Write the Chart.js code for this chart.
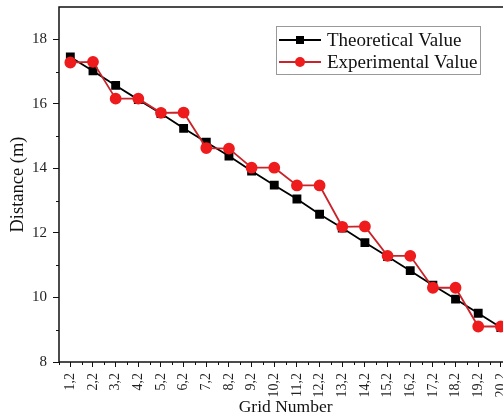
<!DOCTYPE html>
<html>
<head>
<meta charset="utf-8">
<script src="https://cdn.jsdelivr.net/npm/chart.js@4"></script>
<style>
  html, body { margin: 0; padding: 0; background: #fff; overflow: hidden; }
  #wrap { width: 519px; height: 419px; }
</style>
</head>
<body>
<div id="wrap"><canvas id="chart"></canvas></div>
<script>
// grid labels along the x axis
const gridLabels = ['1,2', '2,2', '3,2', '4,2', '5,2', '6,2', '7,2', '8,2', '9,2', '10,2',
    '11,2', '12,2', '13,2', '14,2', '15,2', '16,2', '17,2', '18,2', '19,2', '20,2'];

// distance values (m)
const theoretical = [17.45, 17.02, 16.57, 16.13, 15.70, 15.24, 14.81, 14.38, 13.92, 13.48,
    13.05, 12.58, 12.15, 11.70, 11.27, 10.83, 10.38, 9.95, 9.51, 9.07];
const experimental = [17.28, 17.30, 16.16, 16.16, 15.72, 15.73, 14.63, 14.61, 14.02, 14.02,
    13.47, 13.47, 12.19, 12.20, 11.29, 11.29, 10.30, 10.30, 9.10, 9.10];

const yMin = 8, yMax = 19;
const serif = '"Liberation Serif", "Times New Roman", serif';

// frame + minor ticks (Origin style)
const framePlugin = {
    id: 'frame',
    afterDraw(chart) {
        const { ctx, chartArea: a, scales } = chart;
        ctx.save();
        ctx.strokeStyle = '#111';
        ctx.lineWidth = 1.5;
        ctx.strokeRect(a.left, a.top, a.right - a.left, a.bottom - a.top);

        ctx.lineWidth = 1;
        ctx.beginPath();
        // y minor ticks at odd values
        for (let v = yMin + 1; v < yMax; v += 2) {
            const y = Math.round(scales.y.getPixelForValue(v)) + 0.5;
            ctx.moveTo(a.left - 3, y);
            ctx.lineTo(a.left, y);
        }
        // x minor ticks between categories
        const x = scales.x;
        for (let i = -1; i < gridLabels.length; i++) {
            const px = Math.round((x.getPixelForValue(i) + x.getPixelForValue(i + 1)) / 2) + 0.5;
            ctx.moveTo(px, a.bottom);
            ctx.lineTo(px, a.bottom + 3);
        }
        ctx.stroke();
        ctx.restore();
    }
};

// legend with line + marker samples
const legendPlugin = {
    id: 'lineLegend',
    afterDraw(chart) {
        const { ctx } = chart;
        const box = { x: 276, y: 26, w: 204, h: 48 };
        ctx.save();
        ctx.fillStyle = '#fff';
        ctx.fillRect(box.x, box.y, box.w, box.h);
        ctx.strokeStyle = '#999';
        ctx.lineWidth = 1;
        ctx.strokeRect(box.x + 0.5, box.y + 0.5, box.w, box.h);

        chart.data.datasets.forEach((ds, i) => {
            const cy = box.y + 14 + i * 22;
            ctx.strokeStyle = ds.borderColor;
            ctx.lineWidth = 2;
            ctx.beginPath();
            ctx.moveTo(box.x + 3, cy);
            ctx.lineTo(box.x + 45, cy);
            ctx.stroke();
            ctx.fillStyle = ds.pointBackgroundColor;
            if (ds.pointStyle === 'rect') {
                ctx.fillRect(box.x + 20, cy - 4, 8, 8);
            } else {
                ctx.beginPath();
                ctx.arc(box.x + 24, cy, 5, 0, Math.PI * 2);
                ctx.fill();
            }
            ctx.fillStyle = '#111';
            ctx.font = '19px ' + serif;
            ctx.textBaseline = 'middle';
            ctx.fillText(ds.label, box.x + 51, cy + 1);
        });
        ctx.restore();
    }
};

new Chart(document.getElementById('chart'), {
    type: 'line',
    data: {
        labels: gridLabels,
        datasets: [
            {
                label: 'Theoretical Value',
                data: theoretical,
                borderColor: '#000',
                backgroundColor: '#000',
                pointBackgroundColor: '#000',
                pointBorderColor: '#000',
                pointStyle: 'rect',
                pointRadius: 5,
                borderWidth: 1.8,
                tension: 0,
                order: 1
            },
            {
                label: 'Experimental Value',
                data: experimental,
                borderColor: '#c8242a',
                backgroundColor: '#ee1c1c',
                pointBackgroundColor: '#ee1c1c',
                pointBorderColor: '#ee1c1c',
                pointStyle: 'circle',
                pointRadius: 5,
                borderWidth: 1.8,
                tension: 0,
                order: 0
            }
        ]
    },
    options: {
        responsive: true,
        maintainAspectRatio: false,
        animation: false,
        layout: { padding: { top: 7, right: 2, left: 0, bottom: 0 } },
        plugins: {
            legend: { display: false },
            tooltip: { enabled: false }
        },
        scales: {
            x: {
                offset: true,
                grid: {
                    offset: false,
                    drawOnChartArea: false,
                    tickLength: 5,
                    color: '#111',
                    lineWidth: 1
                },
                border: { display: false },
                ticks: {
                    color: '#222',
                    font: { family: serif, size: 14 },
                    minRotation: 90,
                    maxRotation: 90,
                    autoSkip: false,
                    padding: 6
                },
                title: {
                    display: true,
                    text: 'Grid Number',
                    color: '#111',
                    font: { family: serif, size: 17.5 },
                    padding: { top: 0, bottom: 1 }
                },
                afterFit: (scale) => {
                    scale.height = 57;
                    scale.paddingLeft = 0;
                    scale.paddingRight = 0;
                }
            },
            y: {
                min: yMin,
                max: yMax,
                grid: {
                    drawOnChartArea: false,
                    tickLength: 6,
                    color: '#111',
                    lineWidth: 1
                },
                border: { display: false },
                ticks: {
                    stepSize: 2,
                    color: '#222',
                    font: { family: serif, size: 15 },
                    padding: 6
                },
                afterBuildTicks: (scale) => {
                    scale.ticks = scale.ticks.filter(t => t.value % 2 === 0);
                },
                title: {
                    display: true,
                    text: 'Distance (m)',
                    color: '#111',
                    font: { family: serif, size: 18.5 },
                    padding: { top: 7, bottom: 0 }
                },
                afterFit: (scale) => {
                    scale.width = 59;
                    scale.paddingTop = 0;
                    scale.paddingBottom = 0;
                }
            }
        }
    },
    plugins: [framePlugin, legendPlugin]
});
</script>
</body>
</html>
